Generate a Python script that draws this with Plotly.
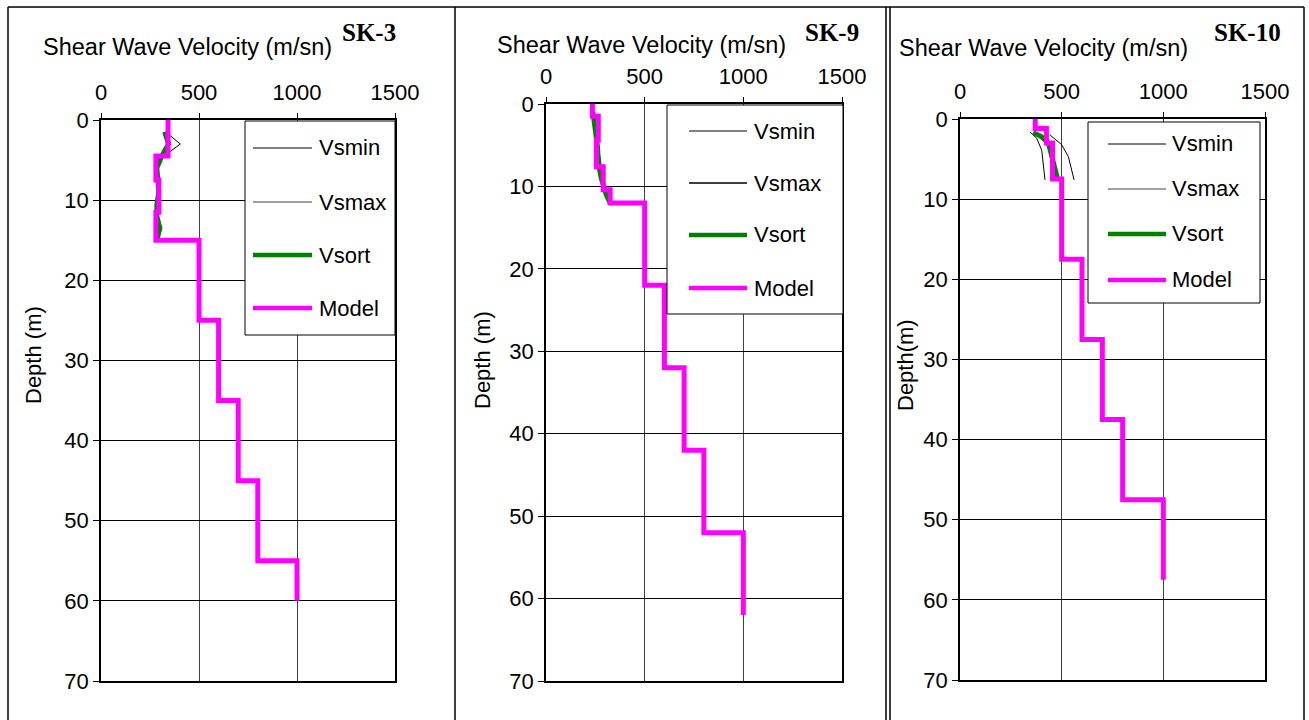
import plotly.graph_objects as go

W, H = 1309, 720

# ---------------- data ----------------
# SK-3
sk3_model_v = [342, 342, 280, 280, 295, 295, 280, 280, 500, 500, 600, 600, 700, 700, 800, 800, 1000, 1000]
sk3_model_d = [0, 4.5, 4.5, 7.5, 7.5, 11.5, 11.5, 15, 15, 25, 25, 35, 35, 45, 45, 55, 55, 60]
sk3_d = [1.5, 3.0, 4.5, 6, 7.5, 9, 10.5, 12, 13.5, 15]
sk3_vsort = [325, 345, 310, 285, 290, 295, 285, 285, 300, 285]
sk3_vsmin = [320, 335, 300, 280, 285, 290, 280, 280, 290, 280]
sk3_vsmax = [330, 405, 320, 290, 295, 300, 290, 290, 310, 290]

# SK-9
sk9_model_v = [235, 235, 265, 265, 255, 255, 290, 290, 325, 325, 500, 500, 600, 600, 700, 700, 800, 800, 1000, 1000]
sk9_model_d = [0, 1.5, 1.5, 4.4, 4.4, 7.6, 7.6, 10.4, 10.4, 12, 12, 22, 22, 32, 32, 42, 42, 52, 52, 62]
sk9_d = [1, 2, 3, 4, 5, 6, 7, 8, 9, 10, 11, 12]
sk9_vsort = [238, 245, 250, 255, 260, 263, 266, 272, 280, 290, 305, 325]
sk9_vsmin = [235, 240, 246, 250, 255, 258, 262, 268, 275, 285, 298, 318]
sk9_vsmax = [242, 250, 256, 262, 266, 270, 272, 278, 288, 298, 312, 332]

# SK-10
sk10_model_v = [370, 370, 425, 425, 455, 455, 500, 500, 600, 600, 700, 700, 800, 800, 1000, 1000]
sk10_model_d = [0, 1.2, 1.2, 3, 3, 7.5, 7.5, 17.5, 17.5, 27.5, 27.5, 37.5, 37.5, 47.5, 47.5, 57.5]
sk10_vsort_d = [1.7, 2.2, 3.0, 4.3, 6.0, 7.5]
sk10_vsort = [360, 400, 435, 450, 465, 480]
sk10_vsmin_d = [1.6, 2.4, 3.9, 5.5, 7.6]
sk10_vsmin = [344, 377, 402, 410, 418]
sk10_vsmax_d = [2.0, 3.2, 4.7, 6.2, 7.6]
sk10_vsmax = [443, 500, 533, 549, 561]

x_ticks = [0, 500, 1000, 1500]
y_ticks = [0, 10, 20, 30, 40, 50, 60, 70]
series_names = ["Vsmin", "Vsmax", "Vsort", "Model"]
panel_titles = ["SK-3", "SK-9", "SK-10"]
depth_titles = ["Depth (m)", "Depth (m)", "Depth(m)"]
axis_title = "Shear Wave Velocity (m/sn)"

# ---------------- styling ----------------
GREEN = "#008000"
MAGENTA = "#FF00FF"
FONT = "Liberation Sans, Arial, sans-serif"
SERIF = "Liberation Serif, Times New Roman, serif"


def px(x):
    return x / W


def py(y):
    return 1 - y / H


panels = [
    dict(x0=101, x1=395, y0=120, y1=681,
         data=(sk3_model_v, sk3_model_d, (sk3_vsmin, sk3_d), (sk3_vsmax, sk3_d), (sk3_vsort, sk3_d)),
         title=(187.5, 47), label=(369, 33), depth=(33, 355),
         legend=dict(box=(245, 121, 395, 335), lx=(253, 312), tx=317, ys=[148, 202, 255, 308], vmaxc="#808080")),
    dict(x0=546, x1=842, y0=104, y1=681,
         data=(sk9_model_v, sk9_model_d, (sk9_vsmin, sk9_d), (sk9_vsmax, sk9_d), (sk9_vsort, sk9_d)),
         title=(641, 45), label=(832, 33), depth=(482, 360),
         legend=dict(box=(667, 105, 843, 314), lx=(689, 747), tx=752, ys=[131, 183, 235, 288], vmaxc="#000000")),
    dict(x0=960, x1=1265, y0=119, y1=680,
         data=(sk10_model_v, sk10_model_d, (sk10_vsmin, sk10_vsmin_d), (sk10_vsmax, sk10_vsmax_d), (sk10_vsort, sk10_vsort_d)),
         title=(1043.5, 48), label=(1247.5, 33), depth=(905, 365),
         legend=dict(box=(1088, 122, 1260, 303), lx=(1108, 1166), tx=1170, ys=[144, 189, 234, 280], vmaxc="#808080")),
]

fig = go.Figure()
shapes = []
annotations = []
layout = {}

for i, p in enumerate(panels):
    n = "" if i == 0 else str(i + 1)
    xa, ya = "x" + n, "y" + n
    mv, md, (vmin, dmin), (vmax, dmax), (vsort, dsort) = p["data"]
    fig.add_trace(go.Scatter(x=vmin, y=dmin, mode="lines", name="Vsmin",
                             line=dict(color="black", width=1), xaxis=xa, yaxis=ya, showlegend=False))
    fig.add_trace(go.Scatter(x=vmax, y=dmax, mode="lines", name="Vsmax",
                             line=dict(color="black", width=1), xaxis=xa, yaxis=ya, showlegend=False))
    fig.add_trace(go.Scatter(x=vsort, y=dsort, mode="lines", name="Vsort",
                             line=dict(color=GREEN, width=5), xaxis=xa, yaxis=ya, showlegend=False))
    fig.add_trace(go.Scatter(x=mv, y=md, mode="lines", name="Model",
                             line=dict(color=MAGENTA, width=5), xaxis=xa, yaxis=ya, showlegend=False))

    layout["xaxis" + n] = dict(
        domain=[px(p["x0"]), px(p["x1"])], range=[0, 1500], side="top", anchor=ya,
        tickvals=x_ticks, ticks="outside", ticklen=5, tickcolor="black", automargin=False,
        ticklabelstandoff=4,
        showgrid=True, gridcolor="#404040", gridwidth=1, zeroline=False,
        showline=True, linecolor="black", linewidth=1.5, mirror=True,
        tickfont=dict(family=FONT, size=22, color="black"), fixedrange=True)
    layout["yaxis" + n] = dict(
        domain=[py(p["y1"]), py(p["y0"])], range=[70, 0], anchor=xa,
        tickvals=y_ticks, ticks="outside", ticklen=6, tickcolor="black", automargin=False,
        showgrid=True, gridcolor="black", gridwidth=1, zeroline=False,
        showline=True, linecolor="black", linewidth=1.5, mirror=True,
        tickfont=dict(family=FONT, size=22, color="black"), fixedrange=True)

    tx, ty = p["title"]
    annotations.append(dict(text=axis_title, x=px(tx), y=py(ty), xref="paper", yref="paper",
                            showarrow=False, xanchor="center", yanchor="middle",
                            font=dict(family=FONT, size=23.5, color="black")))
    lx, ly = p["label"]
    annotations.append(dict(text="<b>%s</b>" % panel_titles[i], x=px(lx), y=py(ly), xref="paper", yref="paper",
                            showarrow=False, xanchor="center", yanchor="middle",
                            font=dict(family=SERIF, size=25, color="black")))
    dx, dy = p["depth"]
    annotations.append(dict(text=depth_titles[i], x=px(dx), y=py(dy), xref="paper", yref="paper",
                            showarrow=False, xanchor="center", yanchor="middle", textangle=-90,
                            font=dict(family=FONT, size=22, color="black")))

    lg = p["legend"]
    bx0, by0, bx1, by1 = lg["box"]
    shapes.append(dict(type="rect", xref="paper", yref="paper", x0=px(bx0), x1=px(bx1), y0=py(by1), y1=py(by0),
                       line=dict(color="black", width=1), fillcolor="white", layer="above"))
    styles = [("black", 1), (lg["vmaxc"], 1.5), (GREEN, 4.5), (MAGENTA, 4.5)]
    for (c, w), yy, name in zip(styles, lg["ys"], series_names):
        shapes.append(dict(type="line", xref="paper", yref="paper", x0=px(lg["lx"][0]), x1=px(lg["lx"][1]),
                           y0=py(yy), y1=py(yy), line=dict(color=c, width=w), layer="above"))
        annotations.append(dict(text=name, x=px(lg["tx"]), y=py(yy), xref="paper", yref="paper",
                                showarrow=False, xanchor="left", yanchor="middle",
                                font=dict(family=FONT, size=22, color="black")))

# frames of the three table cells
for (x0, y0, x1, y1) in [(8, 7, 1304, 7), (8, 7, 8, 725), (1304, 7, 1304, 725),
                         (455, 7, 455, 725), (886, 7, 886, 725), (890, 7, 890, 725)]:
    shapes.append(dict(type="line", xref="paper", yref="paper", x0=px(x0), x1=px(x1), y0=py(y0), y1=py(y1),
                       line=dict(color="black", width=1.5)))

fig.update_layout(
    width=W, height=H, margin=dict(l=0, r=0, t=0, b=0, pad=0),
    paper_bgcolor="white", plot_bgcolor="white",
    showlegend=False, shapes=shapes, annotations=annotations, **layout)

fig.write_html("out.html", post_script="document.body.style.margin='0';document.body.style.overflow='hidden';")
